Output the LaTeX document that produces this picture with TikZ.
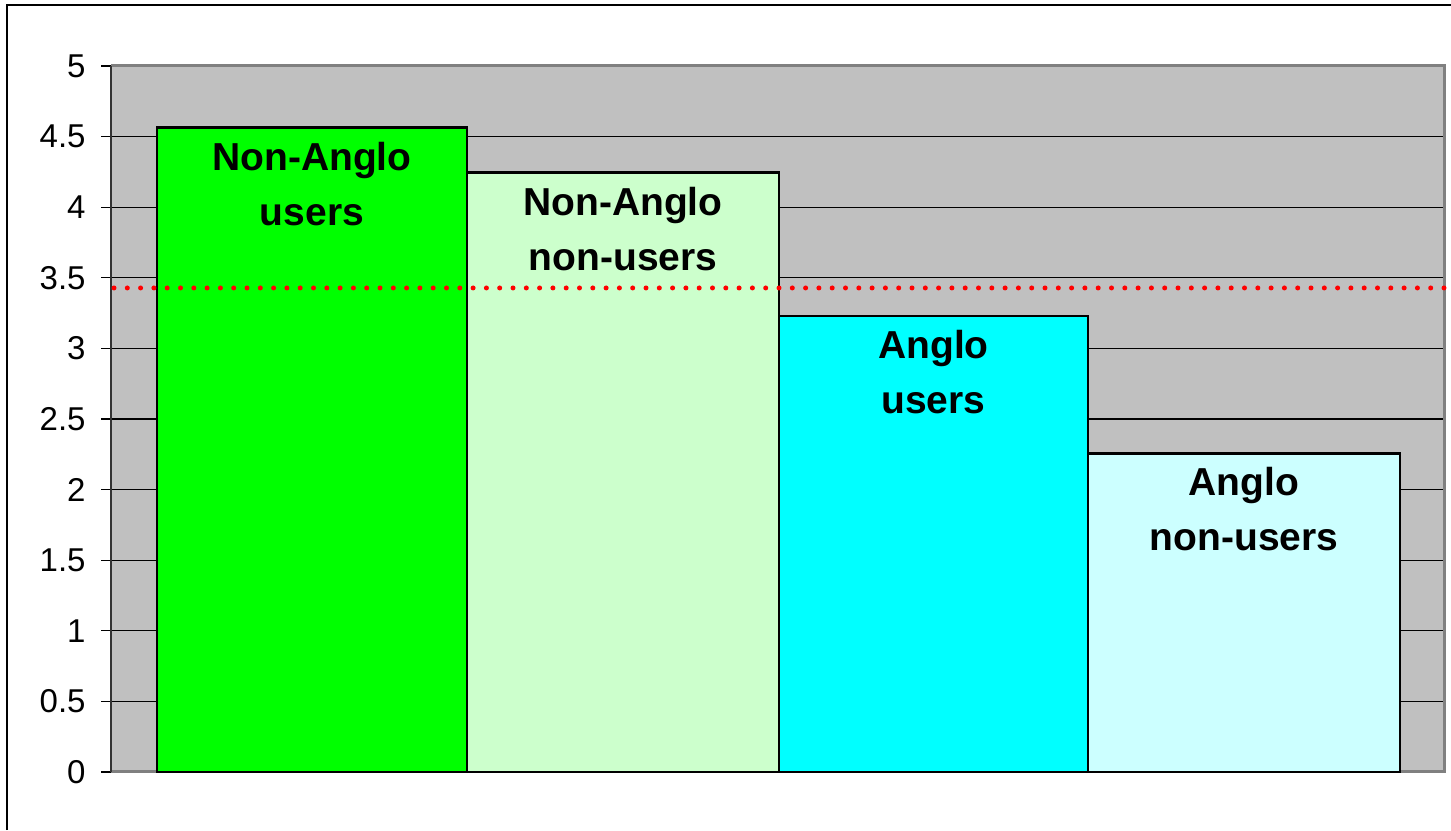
\documentclass[tikz,border=0pt]{standalone}
\usepackage{fontspec}
\setmainfont{Liberation Sans}
\usepackage{xcolor}
\usepackage{tikz}
\definecolor{NAUser}{HTML}{00FF00}
\definecolor{NANonUser}{HTML}{CCFFCC}
\definecolor{AUser}{HTML}{00FFFF}
\definecolor{ANonUser}{HTML}{CCFFFF}
\definecolor{PlotGray}{HTML}{C0C0C0}
\definecolor{EdgeGray}{HTML}{808080}

\begin{document}
\begin{tikzpicture}[
  x=0.5pt,y=0.5pt,
  every node/.style={inner sep=0pt},
  frame/.style={draw=black,line width=1pt},
  plotbg/.style={fill=PlotGray},
  plotedge/.style={draw=EdgeGray,line width=1.5pt},
  grid/.style={draw=black,line width=0.6pt},
  bar/.style={draw=black,line width=1.3pt},
  ticklabel/.style={anchor=east,font=\fontsize{16.5}{20}\selectfont},
  barlabel/.style={anchor=north,yshift=-7pt,align=center,
    font=\fontsize{19.5}{27.5}\selectfont\bfseries},
  mean/.style={draw=red,line width=2.5pt,line cap=round,
    dash pattern=on 0pt off 6.65pt}
]
  \useasboundingbox (0,0) rectangle (1451,830);
  \draw[frame] (7,0) -- (7,825) -- (1451,825);

  \begin{scope}[shift={(0,58)},y=70.6pt]
    \fill[plotbg] (111,0) rectangle (1444,5);
    \foreach \v [count=\i] in {0,0.5,1,1.5,2,2.5,3,3.5,4,4.5,5} {
      \draw[grid] (101,\v) -- (1444,\v);
      \node[ticklabel] (tick\i) at (86,\v) {\v};
    }
    \draw[plotedge] (111,0) -- (1444,0) -- (1444,5) -- (111,5);
    \draw[line width=0.8pt,draw=black!80] (111,0) -- (111,5);

    \draw[bar,fill=NAUser] (157,0) rectangle (467,4.563);
    \draw[bar,fill=NANonUser] (467,0) rectangle (779,4.244);
    \draw[bar,fill=AUser] (779,0) rectangle (1088,3.229);
    \draw[bar,fill=ANonUser] (1088,0) rectangle (1400,2.257);

    \node[barlabel] (nau) at (312,4.563) {Non-Anglo\\users};
    \node[barlabel] (nanu) at (623,4.244) {Non-Anglo\\non-users};
    \node[barlabel] (au) at (933.5,3.229) {Anglo\\users};
    \node[barlabel] (anu) at (1244,2.257) {Anglo\\non-users};

    \draw[mean] (114,3.428) -- (1444,3.428);
  \end{scope}
\end{tikzpicture}
\end{document}
